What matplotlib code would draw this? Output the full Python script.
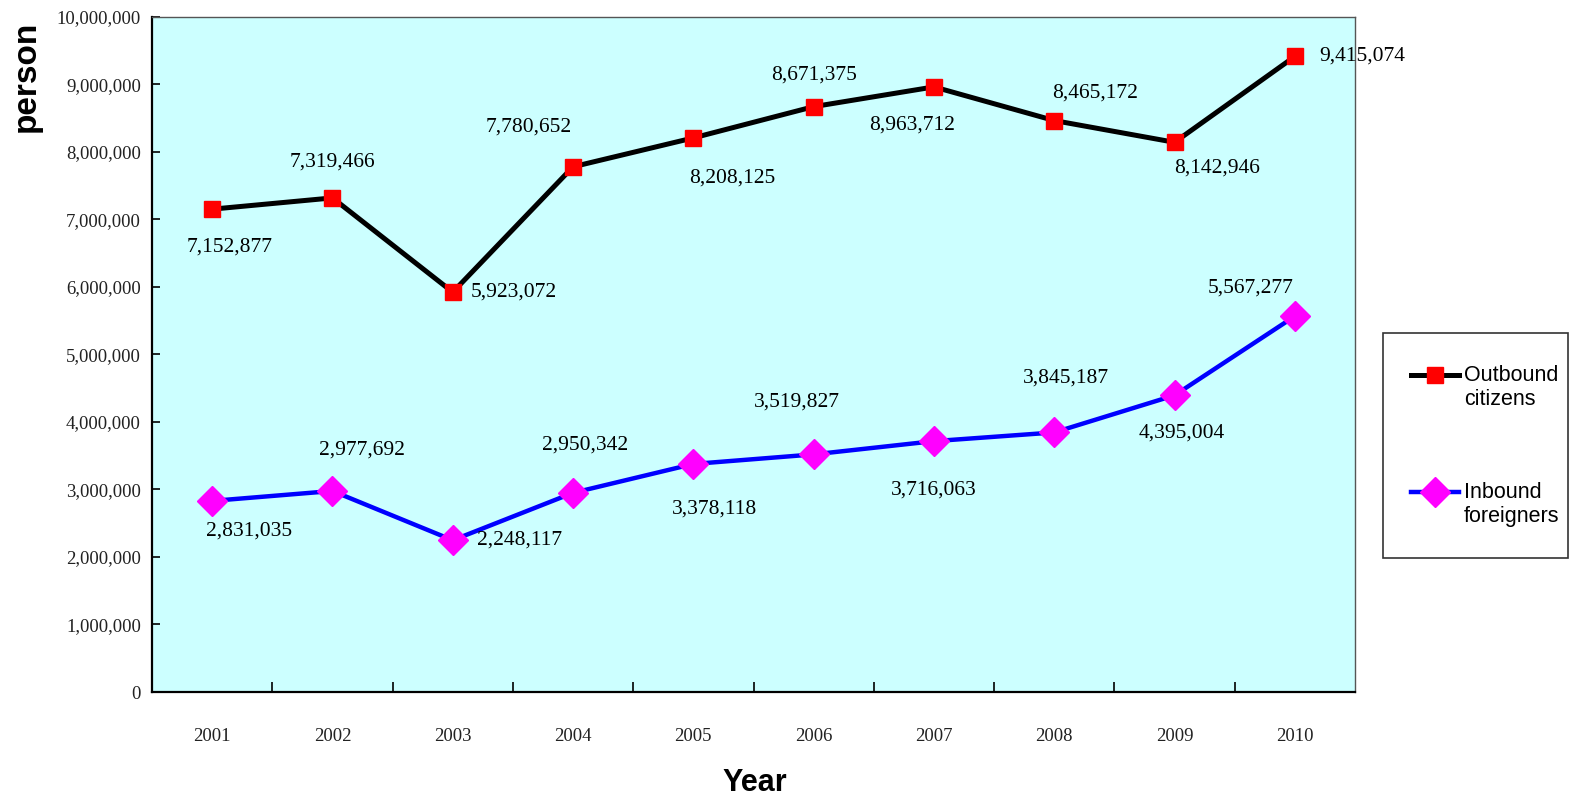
import matplotlib.pyplot as plt
from matplotlib.patches import Rectangle
from matplotlib.legend_handler import HandlerLine2D
from matplotlib.ticker import FuncFormatter

years = ['2001', '2002', '2003', '2004', '2005', '2006', '2007', '2008', '2009', '2010']
outbound = [7152877, 7319466, 5923072, 7780652, 8208125, 8671375, 8963712, 8465172, 8142946, 9415074]
inbound = [2831035, 2977692, 2248117, 2950342, 3378118, 3519827, 3716063, 3845187, 4395004, 5567277]

# label offsets in pixels (dx, dy) and horizontal alignment
out_off = [(17, -38, 'center'), (0, 36, 'center'), (18, 0, 'left'), (-44, 40, 'center'),
           (39, -40, 'center'), (0, 32, 'center'), (-22, -38, 'center'), (41, 28, 'center'),
           (43, -26, 'center'), (24, 0, 'left')]
in_off = [(37, -30, 'center'), (29, 41, 'center'), (24, 0, 'left'), (12, 48, 'center'),
          (21, -45, 'center'), (-17, 52, 'center'), (0, -49, 'center'), (12, 54, 'center'),
          (7, -38, 'center'), (-44, 28, 'center')]


class TopLineHandler(HandlerLine2D):
    # put the legend sample next to the first line of a two-line label
    def create_artists(self, legend, orig_handle, xdescent, ydescent, width, height,
                       fontsize, trans):
        artists = super().create_artists(legend, orig_handle, xdescent, ydescent,
                                         width, height, fontsize, trans)
        for a in artists:
            a.set_ydata([y + 0.6 * fontsize for y in a.get_ydata()])
        return artists


fig = plt.figure(figsize=(15.82, 8.07), dpi=100)
ax = fig.add_axes([0.0961, 0.1425, 0.7604, 0.8365])
ax.set_facecolor('#CCFFFF')

x = list(range(len(years)))
ax.plot(x, outbound, color='black', lw=3.6, marker='s', ms=12.2,
        mfc='red', mec='red', label='Outbound\ncitizens', zorder=3)
ax.plot(x, inbound, color='blue', lw=3.2, marker='D', ms=15.5,
        mfc='magenta', mec='magenta', label='Inbound\nforeigners', zorder=3)

for series, offs in [(outbound, out_off), (inbound, in_off)]:
    for i, v in enumerate(series):
        dx, dy, ha = offs[i]
        ax.annotate(f'{v:,}', (i, v), xytext=(dx, dy), textcoords='offset pixels',
                    ha=ha, va='center', fontsize=15.5, family='Liberation Serif', zorder=4)

ax.set_xlim(-0.5, 9.5)
ax.set_ylim(0, 10000000)
ax.set_yticks(range(0, 10000001, 1000000))
ax.yaxis.set_major_formatter(FuncFormatter(lambda v, p: f'{int(v):,}'))
ax.set_xticks(x)
ax.set_xticklabels(years)
ax.set_xticks([i + 0.5 for i in range(9)], minor=True)
ax.tick_params(axis='x', which='major', length=0, pad=26)
ax.tick_params(axis='x', which='minor', direction='in', length=7, width=1.2)
ax.tick_params(axis='y', direction='in', length=6, width=1.2, pad=8)
for lab in ax.get_xticklabels():
    lab.set_family('Liberation Serif')
    lab.set_fontsize(13.5)
    lab.set_color('#222222')
for lab in ax.get_yticklabels():
    lab.set_family('Liberation Serif')
    lab.set_fontsize(13.5)
    lab.set_color('#222222')

for s in ['left', 'bottom']:
    ax.spines[s].set_linewidth(1.6)
    ax.spines[s].set_color('black')
for s in ['top', 'right']:
    ax.spines[s].set_linewidth(1.0)
    ax.spines[s].set_color('#555555')

fig.text(0.0165, 0.905, 'person', rotation=90, ha='center', va='center',
         fontsize=24, fontweight='bold', family='Liberation Sans')
fig.text(0.477, 0.03, 'Year', ha='center', va='center',
         fontsize=22, fontweight='bold', family='Liberation Sans')

# legend box
fig.patches.append(Rectangle((1383 / 1582, 1 - 558 / 807), 185 / 1582, 225 / 807,
                             transform=fig.transFigure, fill=False,
                             edgecolor='#333333', lw=1.2))
leg = fig.legend(loc='center left', bbox_to_anchor=(1411 / 1582, 1 - 446 / 807), frameon=False,
                 prop={'family': 'Liberation Sans', 'size': 15.5},
                 labelspacing=3.3, handlelength=2.25, handletextpad=0.2, borderpad=0,
                 borderaxespad=0, handler_map={plt.Line2D: TopLineHandler()})

plt.savefig('out.png', dpi=100)
